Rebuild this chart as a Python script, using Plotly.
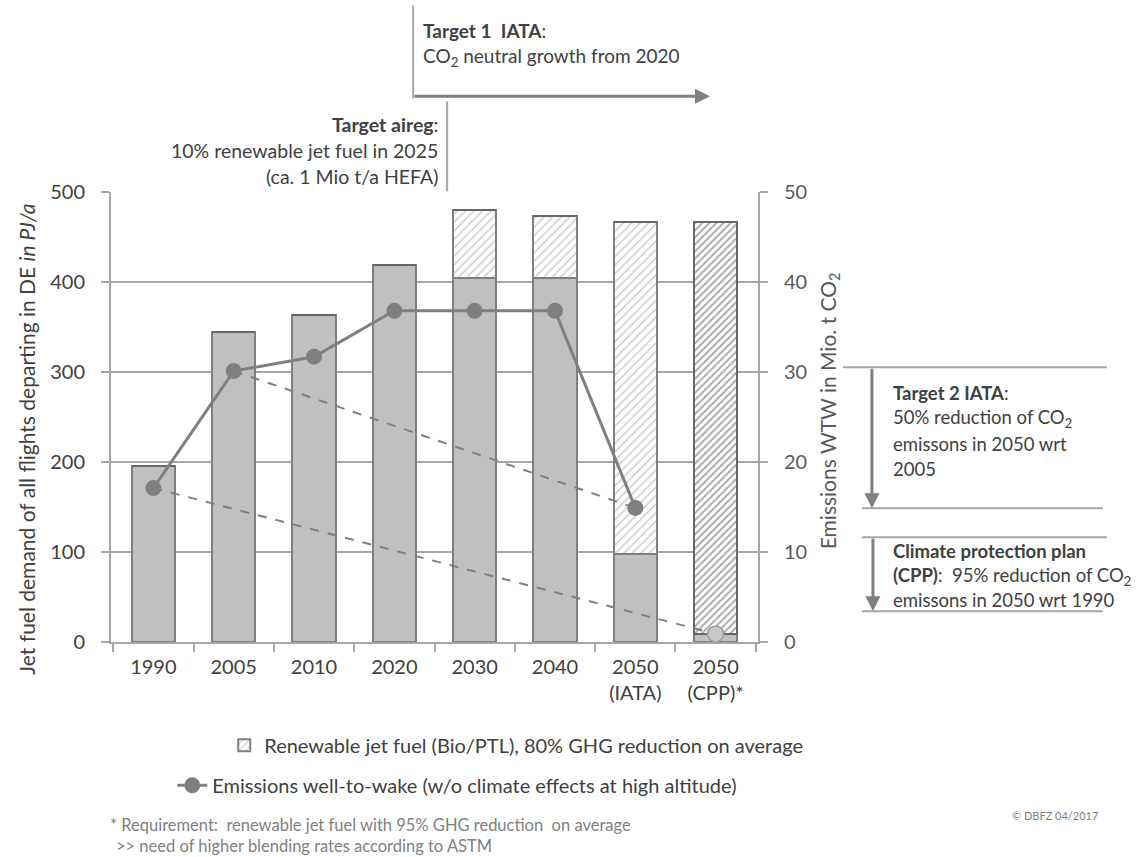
import plotly.graph_objects as go

categories = ["1990", "2005", "2010", "2020", "2030", "2040", "2050<br>(IATA)", "2050<br>(CPP)*"]
fossil_pj = [196, 345, 363, 419, 404, 405, 98, 9]
renewable_pj = [0, 0, 0, 0, 76, 68, 369, 0]
renewable_cpp_pj = [0, 0, 0, 0, 0, 0, 0, 458]
emissions = [17.1, 30.1, 31.7, 36.8, 36.8, 36.8, 14.9, None]
target_iata_x = ["2005", "2050<br>(IATA)"]
target_iata_y = [30.1, 14.9]
target_cpp_x = ["1990", "2050<br>(CPP)*"]
target_cpp_y = [17.1, 0.9]
cpp_point_x = ["2050<br>(CPP)*"]
cpp_point_y = [0.9]

GRAY = "#7f7f7f"
DARK = "#404040"
FONT = "Lato"

# plot area in pixels
L, R, T, B = 110.7, 758.0, 191.7, 641.7
W, H = 1147, 857


def px(x):
    return (x - L) / (R - L)


def py(y):
    return (B - y) / (B - T)


fig = go.Figure()

fig.add_trace(go.Bar(
    x=categories, y=fossil_pj, showlegend=False,
    marker=dict(color="#c0c0c0", line=dict(color=GRAY, width=2)),
    hoverinfo="skip"))
fig.add_trace(go.Bar(
    x=categories, y=renewable_pj, name="Renewable jet fuel (Bio/PTL), 80% GHG reduction on average",
    marker=dict(color="white", line=dict(color=GRAY, width=2),
                pattern=dict(shape="/", fgcolor="#9a9a9a", bgcolor="white", size=6, solidity=0.25)),
    legend="legend"))
fig.add_trace(go.Bar(
    x=categories, y=renewable_cpp_pj, showlegend=False,
    marker=dict(color="white", line=dict(color="#666666", width=2),
                pattern=dict(shape="/", fgcolor="#4d4d4d", bgcolor="white", size=5, solidity=0.35))))

fig.add_trace(go.Scatter(
    x=target_iata_x, y=target_iata_y, yaxis="y2", mode="lines", showlegend=False,
    line=dict(color=GRAY, width=2, dash="dash")))
fig.add_trace(go.Scatter(
    x=target_cpp_x, y=target_cpp_y, yaxis="y2", mode="lines", showlegend=False,
    line=dict(color=GRAY, width=2, dash="dash")))
fig.add_trace(go.Scatter(
    x=categories, y=emissions, yaxis="y2", mode="lines+markers",
    name="Emissions well-to-wake (w/o climate effects at high altitude)",
    line=dict(color=GRAY, width=3), marker=dict(color=GRAY, size=16),
    legend="legend2"))
fig.add_trace(go.Scatter(
    x=cpp_point_x, y=cpp_point_y, yaxis="y2", mode="markers", showlegend=False,
    marker=dict(color="#c8c8c8", size=16, line=dict(color="#9a9a9a", width=1.5))))

shapes = []


def seg(x0, y0, x1, y1, w=2, c="#a6a6a6"):
    shapes.append(dict(type="line", xref="paper", yref="paper",
                       x0=px(x0), y0=py(y0), x1=px(x1), y1=py(y1),
                       line=dict(color=c, width=w)))


# top annotation lines
seg(413, 5, 413, 98)
seg(447, 101, 447, 191)
# right annotation lines
seg(843, 367, 1107, 367)
seg(862, 508, 1103, 508)
seg(862, 537, 1107, 537)
seg(862, 611, 1103, 611)

annotations = []


def arrow(x0, y0, x1, y1):
    annotations.append(dict(xref="paper", yref="paper", x=px(x1), y=py(y1),
                            axref="pixel", ayref="pixel", ax=x0 - x1, ay=y0 - y1,
                            showarrow=True, arrowhead=2, arrowsize=1, arrowwidth=3,
                            arrowcolor=GRAY, text=""))


arrow(413, 96, 710, 96)
arrow(872, 367, 872, 508)
arrow(873, 537, 873, 611)


def txt(x, y, s, size=17, anchor="left", color=DARK, angle=0):
    annotations.append(dict(xref="paper", yref="paper", x=px(x), y=py(y), text=s,
                            showarrow=False, xanchor=anchor, yanchor="middle",
                            textangle=angle,
                            font=dict(family=FONT, size=size, color=color)))


txt(421, 30, "<b>Target 1  IATA</b>:", 19)
txt(421, 57, "CO<sub>2</sub> neutral growth from 2020", 19)
txt(440, 124, "<b>Target aireg</b>:", 19.5, anchor="right")
txt(440, 150, "10% renewable jet fuel in 2025", 19.5, anchor="right")
txt(440, 176, "(ca. 1 Mio t/a HEFA)", 19.5, anchor="right")

txt(891, 393, "<b>Target 2 IATA</b>:", 18.5)
txt(891, 418, "50% reduction of CO<sub>2</sub>", 18.5)
txt(891, 444, "emissons in 2050 wrt", 18.5)
txt(891, 469, "2005", 18.5)
txt(891, 551, "<b>Climate protection plan</b>", 18.5)
txt(891, 576, "<b>(CPP)</b>:  95% reduction of CO<sub>2</sub>", 18.5)
txt(891, 600, "emissons in 2050 wrt 1990", 18.5)

txt(108, 825, "* Requirement:  renewable jet fuel with 95% GHG reduction  on average", 16.5, color="#7f7f7f")
txt(114, 846, ">> need of higher blending rates according to ASTM", 16.5, color="#7f7f7f")
txt(1010, 815, "© DBFZ 04/2017", 11, color="#7f7f7f")

# axis titles
txt(26, 439, "Jet fuel demand of all flights departing in DE <i>in PJ/a</i>", 21,
    anchor="center", angle=-90)
txt(829, 410, "Emissions WTW in Mio. t CO<sub>2</sub>", 21, anchor="center",
    color="#595959", angle=-90)

fig.update_layout(
    width=W, height=H,
    margin=dict(l=L, r=W - R, t=T, b=H - B),
    paper_bgcolor="white", plot_bgcolor="white",
    barmode="stack", bargap=0.46,
    font=dict(family=FONT, color=DARK),
    shapes=shapes, annotations=annotations,
    xaxis=dict(type="category", tickson="boundaries", ticks="outside", ticklen=8,
               tickcolor="#a6a6a6", tickwidth=2, showline=True, linecolor="#a6a6a6",
               linewidth=2, tickfont=dict(family=FONT, size=20, color=DARK),
               ticklabelstandoff=6, showgrid=False),
    yaxis=dict(range=[0, 500], dtick=100, ticks="outside", ticklen=8,
               tickcolor="#a6a6a6", tickwidth=2, showline=True, linecolor="#a6a6a6",
               linewidth=2, gridcolor="#a6a6a6", gridwidth=2, zeroline=False,
               ticklabelstandoff=12,
               tickfont=dict(family=FONT, size=20, color=DARK)),
    yaxis2=dict(range=[0, 50], dtick=10, overlaying="y", side="right", ticks="outside",
                ticklen=8, tickcolor="#a6a6a6", tickwidth=2, showline=True,
                linecolor="#a6a6a6", linewidth=2, showgrid=False, zeroline=False,
                ticklabelstandoff=12,
                tickfont=dict(family=FONT, size=20, color="#595959")),
    legend=dict(x=px(224), y=py(745), xanchor="left", yanchor="middle",
                font=dict(family=FONT, size=20, color=DARK), bgcolor="rgba(0,0,0,0)"),
    legend2=dict(x=px(172), y=py(785), xanchor="left", yanchor="middle",
                 font=dict(family=FONT, size=20, color=DARK), bgcolor="rgba(0,0,0,0)"),
)

fig.write_html("out.html", config={"displayModeBar": False},
               post_script="document.body.style.margin='0px';")
